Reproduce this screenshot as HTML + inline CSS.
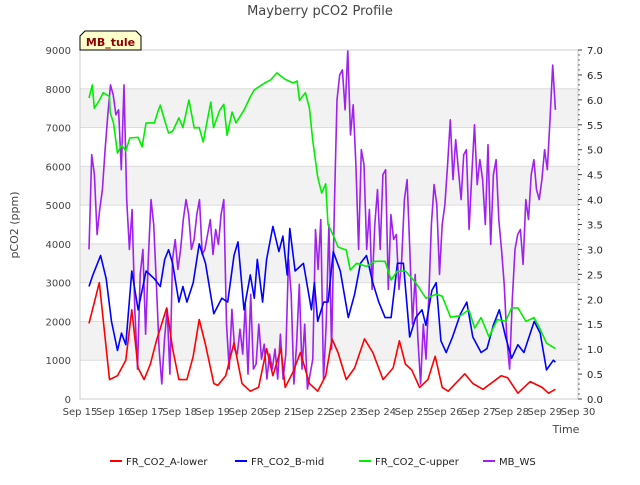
<!DOCTYPE html>
<html><head><meta charset="utf-8"><style>
body{margin:0;background:#fff;}
svg text{font-family:"DejaVu Sans","Liberation Sans",sans-serif;}
</style></head><body>
<svg id="chart" width="640" height="480" xmlns="http://www.w3.org/2000/svg">
<text x="320" y="15" text-anchor="middle" font-size="13" fill="#444">Mayberry pCO2 Profile</text>
<g id="bands"></g>
<g id="grid"></g>
<g id="series"></g>
<g id="axes"></g>
<text transform="translate(18,225) rotate(-90)" text-anchor="middle" font-size="11" fill="#444">pCO2 (ppm)</text>
<text x="566" y="433" text-anchor="middle" font-size="11" fill="#444">Time</text>
<g>
<path d="M80,50 L80,36 L85,31 L136,31 L141,36 L141,50 Z" fill="#ffffcc" stroke="#000" stroke-width="1"/>
<text x="110.5" y="46" text-anchor="middle" font-size="11" font-weight="bold" fill="#8b0000">MB_tule</text>
</g>
<g id="legend"></g>
</svg>
<script>
const xTickLabels=["Sep 15","Sep 16","Sep 17","Sep 18","Sep 19","Sep 20","Sep 21","Sep 22","Sep 23","Sep 24","Sep 25","Sep 26","Sep 27","Sep 28","Sep 29","Sep 30"];
const yTicks=[0,1000,2000,3000,4000,5000,6000,7000,8000,9000];
const y2Ticks=[0.0,0.5,1.0,1.5,2.0,2.5,3.0,3.5,4.0,4.5,5.0,5.5,6.0,6.5,7.0];
const aTimes=[0.27,0.58,0.89,1.13,1.38,1.56,1.75,1.93,2.12,2.30,2.61,2.79,2.98,3.22,3.41,3.59,3.78,4.03,4.15,4.39,4.64,4.88,5.13,5.38,5.62,5.81,6.05,6.18,6.42,6.64,6.91,7.16,7.40,7.59,7.77,8.02,8.27,8.57,8.82,9.13,9.43,9.62,9.80,9.99,10.23,10.48,10.70,10.91,11.09,11.59,11.83,12.14,12.69,12.88,13.19,13.56,13.92,14.11,14.32];
const aValues=[1950,3000,500,600,1000,2300,800,500,900,1500,2350,1300,500,500,1100,2050,1400,400,350,600,1450,400,200,300,1300,600,1300,300,700,1200,400,200,600,1550,1200,500,800,1550,1200,500,800,1500,900,750,300,500,1100,300,200,650,400,250,600,550,150,450,300,150,250];
const bTimes=[0.27,0.39,0.62,0.79,0.95,1.13,1.25,1.38,1.56,1.75,1.87,1.99,2.24,2.42,2.55,2.67,2.79,2.98,3.10,3.22,3.41,3.59,3.78,4.03,4.27,4.45,4.64,4.76,4.94,5.13,5.25,5.34,5.50,5.62,5.81,5.99,6.11,6.24,6.32,6.48,6.73,6.97,7.06,7.16,7.34,7.47,7.63,7.84,8.08,8.27,8.45,8.63,8.82,9.00,9.19,9.37,9.56,9.74,9.93,10.11,10.30,10.42,10.60,10.73,10.87,11.03,11.22,11.46,11.65,11.83,12.08,12.26,12.45,12.63,12.82,13.00,13.19,13.37,13.68,13.86,14.05,14.26,14.32];
const bValues=[2900,3200,3700,3100,2000,1250,1700,1400,3300,2300,2800,3300,3100,2900,3600,3850,3500,2500,2900,2500,3000,4000,3500,2200,2600,2500,3700,4050,2300,3200,2600,3600,2500,3600,4450,3800,4200,3200,4400,3300,3500,2300,3000,2000,2500,2500,3800,3300,2100,2700,3500,3700,3000,2500,2100,2100,3500,3500,1600,2100,2300,1900,2800,3000,1500,1200,1600,2200,2500,1600,1200,1300,1900,2300,1600,1050,1400,1200,2000,1700,750,1000,950];
const cTimes=[0.27,0.37,0.43,0.58,0.70,0.89,0.91,1.01,1.13,1.25,1.38,1.50,1.75,1.87,1.99,2.24,2.36,2.42,2.55,2.67,2.79,2.98,3.10,3.28,3.44,3.59,3.71,3.94,4.02,4.21,4.33,4.43,4.58,4.70,4.94,5.13,5.25,5.56,5.74,5.93,6.17,6.42,6.54,6.61,6.79,6.91,7.01,7.16,7.28,7.40,7.47,7.65,7.77,8.02,8.14,8.33,8.63,8.88,9.19,9.37,9.56,9.80,10.11,10.42,10.73,10.91,11.16,11.46,11.71,11.89,12.08,12.32,12.57,12.82,13.00,13.19,13.43,13.68,13.86,14.05,14.32];
const cValues=[7760,8100,7500,7700,7900,7800,7380,7120,6340,6550,6400,6730,6750,6500,7120,7120,7450,7580,7180,6860,6900,7250,7000,7710,6990,7000,6630,7660,7000,7450,7600,6800,7400,7120,7450,7790,7970,8150,8230,8410,8250,8150,8200,7700,7900,7500,6680,5720,5310,5550,4500,4180,3920,3840,3330,3500,3420,3550,3550,3070,3300,3300,3000,2600,2700,2650,2110,2150,2300,1830,2100,1600,2050,2000,2350,2350,2000,2100,1800,1440,1300];
const wStart=0.27, wEnd=14.32;
const wValues=[3.0,4.9,4.5,3.3,3.8,4.2,5.0,5.7,6.3,6.1,5.7,5.8,4.6,6.3,4.0,3.0,3.8,1.8,0.6,2.5,3.0,1.3,2.8,4.0,3.5,2.3,1.0,0.3,1.2,1.8,0.5,2.8,3.2,2.6,3.0,3.6,4.0,3.7,3.0,3.2,3.7,4.0,2.9,3.0,3.3,3.6,2.9,3.4,3.1,3.7,4.0,1.5,0.6,1.8,1.0,0.9,1.4,0.9,1.9,0.5,2.1,0.6,0.7,1.5,0.8,1.1,0.4,0.9,0.6,1.0,0.4,1.3,0.4,0.9,2.8,2.1,0.3,1.1,2.3,0.6,1.5,0.2,0.5,0.8,3.4,2.6,3.6,0.4,1.5,3.5,1.0,3.8,6.0,6.5,6.6,5.8,7.0,5.3,5.9,4.7,3.0,5.0,4.7,3.0,3.8,2.2,3.5,4.2,3.0,4.5,4.6,2.2,3.7,3.2,3.3,2.2,2.8,4.0,4.4,3.0,1.5,2.5,1.2,0.3,1.5,0.8,2.0,3.5,4.3,3.9,2.5,3.5,3.9,4.7,5.6,4.4,5.2,4.6,4.0,4.9,5.0,3.4,4.5,5.5,4.3,4.8,4.4,3.5,5.1,3.1,4.5,4.8,3.6,3.0,2.3,1.2,0.6,2.0,3.0,3.3,3.4,2.7,4.0,3.6,4.5,4.8,4.2,4.0,4.4,5.0,4.6,5.6,6.7,5.8];

const NS="http://www.w3.org/2000/svg";
const L=80,R=578,T=50,B=399;
const xs=d=>L+(R-L)*d/15;
const ys=v=>B-(B-T)*v/9000;
const ys2=v=>B-(B-T)*v/7;
function mk(tag,attrs,parent){const e=document.createElementNS(NS,tag);for(const k in attrs)e.setAttribute(k,attrs[k]);parent.appendChild(e);return e;}
const bands=document.getElementById('bands'),grid=document.getElementById('grid'),axes=document.getElementById('axes'),series=document.getElementById('series'),legend=document.getElementById('legend');
for(let i=1;i<9;i+=2){
 const r=mk('rect',{x:L,y:ys(yTicks[i+1]),width:R-L,height:ys(yTicks[i])-ys(yTicks[i+1]),fill:'#f2f2f2'},bands);
 
 
}
yTicks.forEach(v=>{
 const g=mk('line',{x1:L,x2:R,y1:ys(v),y2:ys(v),stroke:'#dcdcdc','stroke-width':1},grid);
 
 
 const t=mk('text',{x:71,y:ys(v)+4,'text-anchor':'end','font-size':10,fill:'#444'},axes);
 
 
 t.textContent=v;
});
const frame=mk('rect',{x:L,y:T,width:R-L,height:B-T,fill:'none',stroke:'#ccc'},axes);


xTickLabels.forEach((s,i)=>{
 const t=mk('text',{x:xs(i),y:415,'text-anchor':'middle','font-size':10,fill:'#444'},axes);
 
 
 t.textContent=s;
});
y2Ticks.forEach(v=>{
 mk('line',{x1:R,x2:R+4,y1:ys2(v),y2:ys2(v),stroke:'#444'},axes);
 const t=mk('text',{x:587,y:ys2(v)+4,'font-size':10,fill:'#222'},axes);
 
 
 t.textContent=v.toFixed(1);
});
for(let v=0;v<=70;v++){mk('line',{x1:R,x2:R+2,y1:ys2(v/10),y2:ys2(v/10),stroke:'#444','stroke-width':0.8},axes);}
function line(ts,vs,sc,col,name){
 const p=ts.map((t,i)=>xs(t).toFixed(1)+','+sc(vs[i]).toFixed(1)).join(' ');
 const e=mk('polyline',{points:p,fill:'none',stroke:col,'stroke-width':1.6,'stroke-linejoin':'round'},series);
 
 
}
const wTimes=wValues.map((v,i)=>wStart+(wEnd-wStart)*i/(wValues.length-1));
line(wTimes,wValues,ys2,'#a020f0','series-mb-ws');
line(aTimes,aValues,ys,'#ff0000','series-a-lower');
line(bTimes,bValues,ys,'#0000ff','series-b-mid');
line(cTimes,cValues,ys,'#00ee00','series-c-upper');
const leg=[["FR_CO2_A-lower","#ff0000",110],["FR_CO2_B-mid","#0000ff",235],["FR_CO2_C-upper","#00ee00",359],["MB_WS","#a020f0",483]];
leg.forEach(([s,c,x])=>{
 const g=mk('g',{},legend);
 
 
 mk('line',{x1:x,x2:x+12,y1:461,y2:461,stroke:c,'stroke-width':2},g);
 const t=mk('text',{x:x+16,y:465,'font-size':10,fill:'#222'},g);
 t.textContent=s;
});
</script>
</body></html>
